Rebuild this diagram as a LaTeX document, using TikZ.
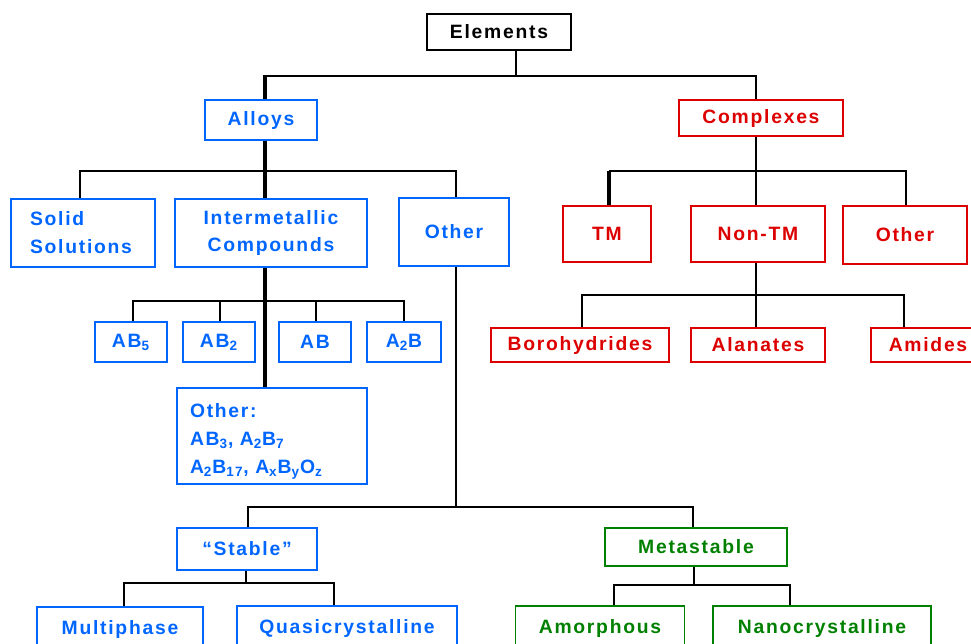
\documentclass[tikz,border=0pt]{standalone}
\usepackage{fontspec}
\setmainfont{Liberation Sans}[LetterSpace=9]
\definecolor{alloyblue}{RGB}{0,102,255}
\definecolor{complexred}{RGB}{221,0,0}
\definecolor{metagreen}{RGB}{0,128,0}

\begin{document}
\begin{tikzpicture}[
        x=0.02cm, y=-0.02cm,
        every node/.style={font=\fontsize{11}{15.9}\selectfont\bfseries},
        box/.style={draw, line width=1.1pt, inner sep=0pt, align=center},
        wh/.style 2 args={minimum width=#1*0.02cm, minimum height=#2*0.02cm},
        alloy/.style={box, draw=alloyblue, text=alloyblue},
        complex/.style={box, draw=complexred, text=complexred},
        meta/.style={box, draw=metagreen, text=metagreen},
        link/.style={line width=1.1pt},
        trunk/.style={line width=2.2pt},
    ]
    \useasboundingbox (0,0) rectangle (971,643);
    \clip (0,0) rectangle (971,643);

    % Root
    \node[box, wh={144}{36}] (elements) at (499,32) {Elements};

    % Alloys branch
    \node[alloy, wh={112}{40}] (alloys) at (261,120) {Alloys};
    \node[alloy, wh={144}{68}, text width=2.12cm, align=left] (solid) at (83,233) {Solid\\Solutions};
    \node[alloy, wh={192}{68}] (intermetallic) at (271,233) {Intermetallic\\Compounds};
    \node[alloy, wh={110}{68}] (otheralloy) at (454,232) {Other};

    % Intermetallic types
    \node[alloy, wh={72}{40}] (ab5) at (131,342) {AB\textsubscript{5}};
    \node[alloy, wh={72}{40}] (ab2) at (219,342) {AB\textsubscript{2}};
    \node[alloy, wh={72}{40}] (ab) at (315,342) {AB};
    \node[alloy, wh={74}{40}] (atwob) at (404,342) {A\textsubscript{2}B};
    \node[alloy, wh={190}{96}, text width=3.28cm, align=left] (otherim) at (272,436) {\rule{0pt}{14.5pt}Other:\\AB\textsubscript{3}, A\textsubscript{2}B\textsubscript{7}\\A\textsubscript{2}B\textsubscript{17}, A\textsubscript{x}B\textsubscript{y}O\textsubscript{z}};

    % Stable / metastable
    \node[alloy, wh={140}{42}] (stable) at (247,549) {“Stable”};
    \node[alloy, wh={166}{44}] (multiphase) at (120,629) {Multiphase};
    \node[alloy, wh={220}{44}] (quasi) at (347,628) {Quasicrystalline};
    \node[meta, wh={182}{38}] (metastable) at (696,547) {Metastable};
    \node[meta, wh={169}{44}] (amorphous) at (600,628) {Amorphous};
    \node[meta, wh={218}{44}] (nano) at (822,628) {Nanocrystalline};

    % Complexes branch
    \node[complex, wh={164}{36}] (complexes) at (761,118) {Complexes};
    \node[complex, wh={88}{56}] (tm) at (607,234) {TM};
    \node[complex, wh={134}{56}] (nontm) at (758,234) {Non-TM};
    \node[complex, wh={124}{58}] (othercx) at (905,235) {Other};
    \node[complex, wh={178}{34}] (boro) at (580,345) {Borohydrides};
    \node[complex, wh={134}{34}] (alanates) at (758,345) {Alanates};
    \node[complex, wh={114}{34}] (amides) at (928,345) {Amides};

    % Connectors: top level
    \draw[link] (516,0 |- elements.south) -- (516,76);
    \draw[link] (265,76) -- (756,76) -- (756,0 |- complexes.north);
    \draw[trunk] (265,75) -- (265,0 |- alloys.north);

    % Connectors: alloys
    \draw[trunk] (265,0 |- alloys.south) -- (265,0 |- intermetallic.north);
    \draw[link] (80,0 |- solid.north) |- (456,171) -- (456,0 |- otheralloy.north);
    \draw[trunk] (265,0 |- intermetallic.south) -- (265,0 |- otherim.north);
    \draw[link] (133,0 |- ab5.north) |- (404,301) -- (404,0 |- atwob.north);
    \draw[link] (220,0 |- ab2.north) -- (220,301);
    \draw[link] (316,0 |- ab.north) -- (316,301);

    % Connectors: other alloys
    \draw[link] (456,0 |- otheralloy.south) -- (456,507);
    \draw[link] (248,0 |- stable.north) |- (693,507) -- (693,0 |- metastable.north);
    \draw[link] (246,0 |- stable.south) -- (246,583);
    \draw[link] (124,0 |- multiphase.north) |- (334,583) -- (334,0 |- quasi.north);
    \draw[link] (694,0 |- metastable.south) -- (694,585);
    \draw[link] (614,0 |- amorphous.north) |- (790,585) -- (790,0 |- nano.north);

    % Connectors: complexes
    \draw[link] (756,0 |- complexes.south) -- (756,0 |- nontm.north);
    \draw[link] (609,171) -- (906,171) -- (906,0 |- othercx.north);
    \draw[trunk] (609,171) -- (609,0 |- tm.north);
    \draw[link] (756,0 |- nontm.south) -- (756,0 |- alanates.north);
    \draw[link] (582,0 |- boro.north) |- (904,295) -- (904,0 |- amides.north);
\end{tikzpicture}
\end{document}
